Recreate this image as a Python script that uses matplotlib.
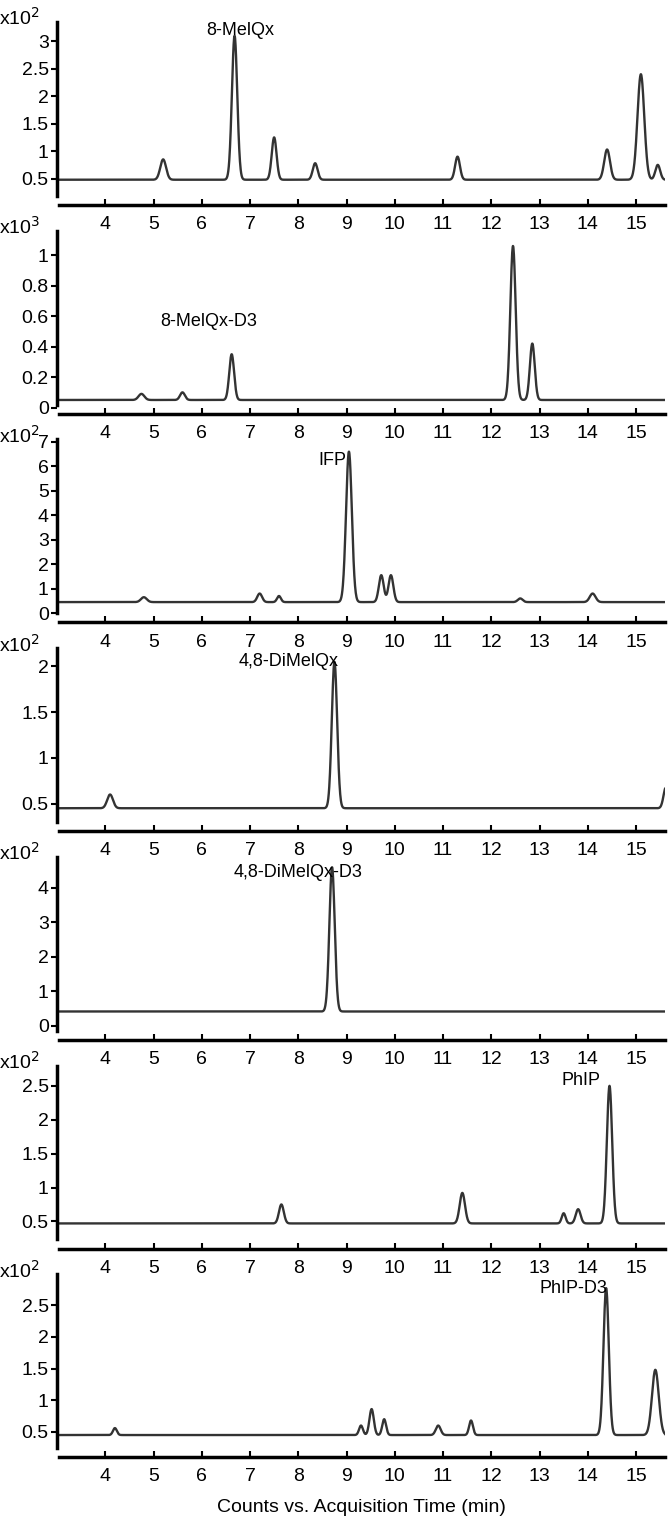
import numpy as np
import matplotlib.pyplot as plt

plt.rcParams["font.family"] = "Liberation Sans"

# retention time axis
t = np.linspace(3.0, 15.6, 2500)

names = ["8-MelQx", "8-MelQx-D3", "IFP", "4,8-DiMelQx", "4,8-DiMelQx-D3", "PhIP", "PhIP-D3"]
exps = ["x10$^2$", "x10$^3$", "x10$^2$", "x10$^2$", "x10$^2$", "x10$^2$", "x10$^2$"]
baselines = [0.48, 0.05, 0.45, 0.45, 0.42, 0.47, 0.45]
# peaks: (centre min, apex height, width)
peaks = [
    [(5.2, 0.85, 0.06), (6.68, 3.1, 0.055), (7.5, 1.25, 0.05), (8.35, 0.78, 0.05),
     (11.3, 0.9, 0.05), (14.4, 1.03, 0.06), (15.1, 2.4, 0.07), (15.45, 0.75, 0.05)],
    [(4.75, 0.09, 0.06), (5.6, 0.1, 0.05), (6.62, 0.35, 0.05), (12.45, 1.06, 0.055),
     (12.85, 0.42, 0.05)],
    [(4.8, 0.65, 0.06), (7.2, 0.8, 0.05), (7.6, 0.7, 0.04), (9.05, 6.6, 0.06),
     (9.72, 1.55, 0.05), (9.92, 1.55, 0.05), (12.6, 0.6, 0.05), (14.1, 0.8, 0.06)],
    [(4.1, 0.6, 0.06), (8.75, 2.05, 0.055), (15.62, 0.68, 0.05)],
    [(8.7, 4.6, 0.055)],
    [(7.65, 0.75, 0.05), (11.4, 0.92, 0.055), (13.5, 0.62, 0.04), (13.8, 0.68, 0.05),
     (14.45, 2.5, 0.055)],
    [(4.2, 0.56, 0.04), (9.3, 0.6, 0.04), (9.52, 0.86, 0.045), (9.78, 0.7, 0.04),
     (10.9, 0.6, 0.05), (11.58, 0.68, 0.04), (14.38, 2.77, 0.055), (15.4, 1.48, 0.07)],
]
yticks = [[0.5, 1, 1.5, 2, 2.5, 3], [0, 0.2, 0.4, 0.6, 0.8, 1], [0, 1, 2, 3, 4, 5, 6, 7],
          [0.5, 1, 1.5, 2], [0, 1, 2, 3, 4], [0.5, 1, 1.5, 2, 2.5], [0.5, 1, 1.5, 2, 2.5]]
ylims = [(0.02, 3.35), (-0.04, 1.16), (-0.38, 7.1), (0.2, 2.2), (-0.4, 4.9), (0.1, 2.8), (0.1, 2.99)]
ticklabels = [[("%g" % v) for v in tk] for tk in yticks]
label_pos = [(6.8, 3.35), (6.15, 0.62), (8.7, 6.6), (7.8, 2.15), (8.0, 4.7), (13.85, 2.7), (13.7, 2.9)]

fig = plt.figure(figsize=(6.69, 15.3), dpi=100)
W, H = 669, 1530
for k in range(7):
    axis_px = 205 + 208.7 * k
    ax = fig.add_axes([57 / W, 1 - axis_px / H, 608 / W, 183 / H])
    y = np.full_like(t, baselines[k])
    for c, h, w in peaks[k]:
        y += (h - baselines[k]) * np.exp(-0.5 * ((t - c) / w) ** 2)
    ax.plot(t, y, color="#333333", lw=1.7)
    ax.set_xlim(3.0, 15.6)
    y0, y1 = ylims[k]
    ax.set_ylim(y0, y1)
    ax.set_yticks(yticks[k])
    ax.set_yticklabels(ticklabels[k])
    ax.set_xticks(range(4, 16))
    for s in ["top", "right"]:
        ax.spines[s].set_visible(False)
    ax.spines["left"].set_linewidth(2.5)
    ax.spines["bottom"].set_linewidth(2.5)
    ax.spines["left"].set_bounds(y0 + 0.05 * (y1 - y0), y1)
    ax.spines["bottom"].set_bounds(3.05, 15.6)
    ax.tick_params(axis="y", direction="out", length=4, width=1.5, labelsize=14, pad=2)
    ax.tick_params(axis="x", direction="in", length=4, width=1.5, labelsize=14, pad=8)
    ax.text(-0.095, 1.02, exps[k], transform=ax.transAxes, fontsize=14, ha="left", va="center")
    ax.text(label_pos[k][0], label_pos[k][1], names[k], fontsize=13, ha="center", va="top")
    if k == 6:
        ax.set_xlabel("Counts vs. Acquisition Time (min)", fontsize=14, labelpad=10)

fig.savefig("out.png", dpi=100)
